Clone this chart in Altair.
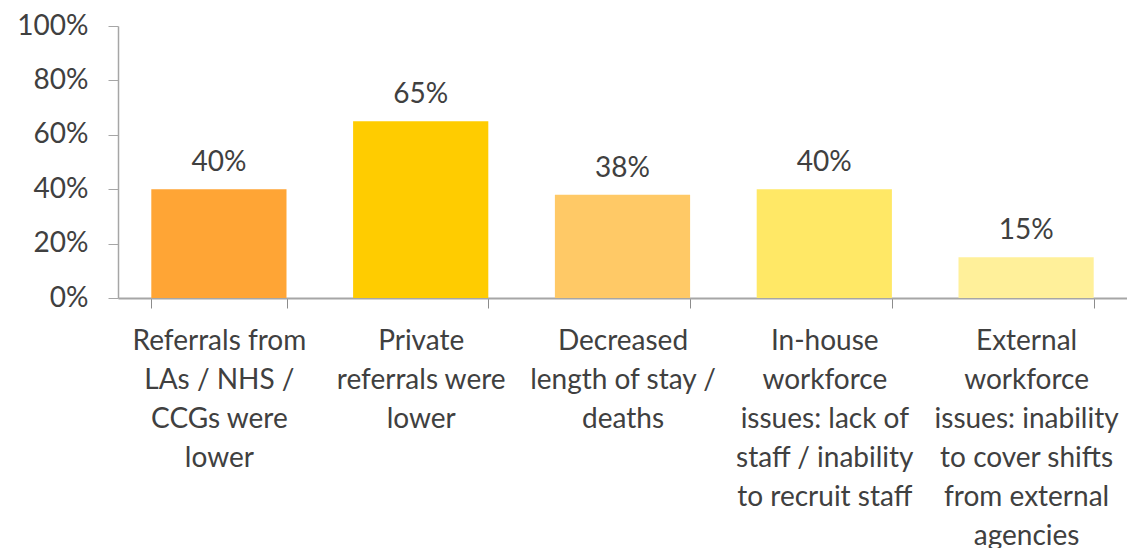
import altair as alt
import pandas as pd

categories = [
    "Referrals from|LAs / NHS /|CCGs were|lower",
    "Private|referrals were|lower",
    "Decreased|length of stay /|deaths",
    "In-house|workforce|issues: lack of|staff / inability|to recruit staff",
    "External|workforce|issues: inability|to cover shifts|from external|agencies",
]
values = [0.40, 0.65, 0.38, 0.40, 0.15]
value_labels = ["40%", "65%", "38%", "40%", "15%"]
colors = ["#FFA535", "#FFCC00", "#FFC966", "#FFE866", "#FFF09A"]

df = pd.DataFrame({"category": categories, "value": values, "label": value_labels})

FONT = "Lato"
TEXT = "#404040"
AXIS = "#A6A6A6"
FS = 28

x = alt.X(
    "category:N",
    sort=categories,
    title=None,
    scale=alt.Scale(paddingInner=0.33, paddingOuter=0.165),
    axis=alt.Axis(
        labelExpr="datum.value ? split(datum.value, '|') : ''",
        labelAngle=0,
        labelFont=FONT,
        labelFontSize=FS,
        labelColor=TEXT,
        labelLineHeight=39,
        labelPadding=19,
        labelBaseline="top",
        tickBand="extent",
        tickSize=10,
        tickColor="#8C8C8C",
        domainColor=AXIS,
        domainWidth=2,
        labelLimit=400,
    ),
)

y = alt.Y(
    "value:Q",
    title=None,
    scale=alt.Scale(domain=[0, 1], nice=False),
    axis=alt.Axis(
        format=".0%",
        values=[0, 0.2, 0.4, 0.6, 0.8, 1.0],
        labelFont=FONT,
        labelFontSize=FS,
        labelColor=TEXT,
        labelPadding=20,
        tickSize=10,
        tickColor=AXIS,
        domainColor=AXIS,
        domainWidth=1.5,
        grid=False,
    ),
)

bars = alt.Chart(df).mark_bar().encode(
    x=x,
    y=y,
    color=alt.Color("category:N", sort=categories, scale=alt.Scale(domain=categories, range=colors), legend=None),
)

text = alt.Chart(df).mark_text(
    baseline="bottom", dy=-12, font=FONT, fontSize=FS, color=TEXT
).encode(
    x=alt.X("category:N", sort=categories),
    y=alt.Y("value:Q"),
    text="label:N",
)

chart = (
    alt.layer(bars, text)
    .properties(
        width=1009,
        height=272,
        padding={"left": 118, "top": 26, "right": 0, "bottom": 250},
        autosize=alt.AutoSizeParams(type="none"),
        background="white",
    )
    .configure_view(stroke=None)
)

chart.save("out.html", embed_options={"renderer": "svg", "actions": False})
